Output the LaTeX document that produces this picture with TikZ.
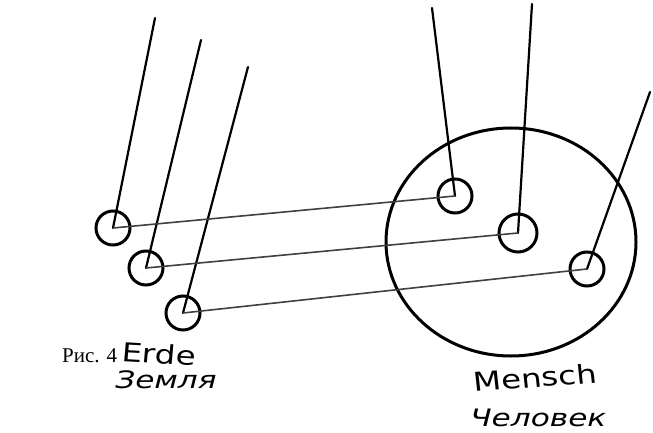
\documentclass[tikz,border=0pt]{standalone}
\usepackage{fontspec}
\setmainfont{Liberation Serif}
\newfontfamily\handfont{DejaVu Sans}
\newfontfamily\cyrfont{DejaVu Sans}
\begin{document}
\begin{tikzpicture}[x=1pt,y=-1pt,
  dot/.style={circle,draw,line width=3pt,minimum size=34pt,inner sep=0pt},
  ray/.style={line width=2.2pt,line cap=round},
  link/.style={line width=1.6pt,draw=black!75},
  bigring/.style={line width=3pt},
  hand/.style={font=\handfont\fontsize{26}{26}\selectfont,xscale=1.25,inner sep=0pt},
  cyr/.style={font=\cyrfont\itshape\fontsize{24}{24}\selectfont,xscale=1.3,inner sep=0pt}]
\useasboundingbox (0,0) rectangle (653,433);
% big circle
\coordinate (big) at (511,242);
\draw[bigring] (big) ellipse [x radius=125pt, y radius=-114pt];
% small circles
\node[dot] (e1) at (113,228) {};
\node[dot] (e2) at (146,268) {};
\node[dot] (e3) at (183,313) {};
\node[dot] (m1) at (455,196) {};
\node[dot,minimum size=38pt] (m2) at (518,233) {};
\node[dot] (m3) at (587,269) {};
% ray tops
\coordinate (t1) at (155,18);
\coordinate (t2) at (201,40);
\coordinate (t3) at (248,67);
\coordinate (t4) at (432,8);
\coordinate (t5) at (532,4);
\coordinate (t6) at (650,92);
\draw[ray] (t1) -- (e1.center);
\draw[ray] (t2) -- (e2.center);
\draw[ray] (t3) -- (e3.center);
\draw[ray] (t4) -- (m1.center);
\draw[ray] (t5) -- (m2.center);
\draw[ray] (t6) -- (m3.center);
% links
\draw[link] (e1.center) -- (m1.center);
\draw[link] (e2.center) -- (m2.center);
\draw[link] (e3.center) -- (m3.center);
% labels
\node[font=\fontsize{21}{21}\selectfont,anchor=west,inner sep=0pt] (fig) at (62,356) {Рис. 4};
\node[hand,anchor=west,rotate=-4] (erde) at (122,352) {Erde};
\node[cyr,anchor=west] (zem) at (115,380) {Земля};
\node[hand,anchor=west,rotate=5] (mensch) at (473,382) {Mensch};
\node[cyr,anchor=west] (chel) at (470,418) {Человек};
\end{tikzpicture}
\end{document}
